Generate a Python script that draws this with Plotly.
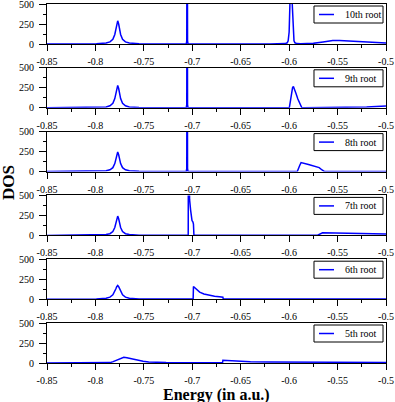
import plotly.graph_objects as go

# ---------------- data ----------------
ROOT_LABELS = ["10th root", "9th root", "8th root", "7th root", "6th root", "5th root"]

ENERGY_10 = [-0.85, -0.82, -0.799, -0.789, -0.785, -0.782, -0.780, -0.779, -0.778, -0.777,
             -0.776, -0.775, -0.774, -0.772, -0.769, -0.765, -0.755, -0.734,
             -0.7062, -0.7057, -0.7053, -0.7049, -0.7044, -0.62,
             -0.604, -0.602, -0.601, -0.600, -0.5992, -0.5985, -0.598, -0.5975, -0.5968,
             -0.596, -0.595, -0.594, -0.592, -0.588, -0.58, -0.575, -0.565, -0.555,
             -0.548, -0.535, -0.52, -0.5]
DOS_10 = [0, 1, 4, 12, 26, 58, 119, 177, 250, 290,
          250, 177, 119, 58, 26, 12, 4, 1,
          1, 40, 3000, 40, 1, 1,
          5, 15, 40, 150, 500, 1500, 2000, 1500, 500,
          150, 40, 15, 5, 2, 3, 8, 25, 44,
          45, 36, 24, 12]

ENERGY_9 = [-0.85, -0.82, -0.799, -0.789, -0.785, -0.782, -0.780, -0.779, -0.778, -0.777,
            -0.776, -0.775, -0.774, -0.772, -0.769, -0.765, -0.755, -0.734,
            -0.7062, -0.7057, -0.7053, -0.7049, -0.7044, -0.62,
            -0.6005, -0.5998, -0.5985, -0.5975, -0.5965, -0.5956, -0.5945, -0.593,
            -0.591, -0.5894, -0.588, -0.587, -0.585,
            -0.54, -0.53, -0.52, -0.51, -0.5]
DOS_9 = [0, 1, 4, 11, 25, 56, 115, 171, 241, 280,
         241, 171, 115, 56, 25, 11, 4, 1,
         1, 40, 3000, 40, 1, 1,
         1, 3, 100, 190, 250, 266, 235, 183,
         110, 58, 20, 3, 1,
         2, 5, 10, 17, 24]

ENERGY_8 = [-0.85, -0.82, -0.799, -0.789, -0.785, -0.782, -0.780, -0.779, -0.778, -0.777,
            -0.776, -0.775, -0.774, -0.772, -0.769, -0.765, -0.755, -0.734,
            -0.7062, -0.7057, -0.7053, -0.7049, -0.7044, -0.62,
            -0.5925, -0.5915, -0.589, -0.5877, -0.58, -0.574, -0.569, -0.566,
            -0.5637, -0.56, -0.5]
DOS_8 = [0, 1, 3, 10, 22, 49, 100, 149, 211, 245,
         211, 149, 100, 49, 22, 10, 3, 1,
         1, 40, 3000, 40, 1, 1,
         1, 5, 80, 112, 88, 70, 50, 20,
         2, 1, 1]

ENERGY_7 = [-0.85, -0.82, -0.799, -0.789, -0.785, -0.782, -0.780, -0.779, -0.778, -0.777,
            -0.776, -0.775, -0.774, -0.772, -0.769, -0.765, -0.755, -0.734,
            -0.72, -0.7045, -0.7042, -0.7039, -0.7034, -0.7028, -0.7017, -0.701,
            -0.7003, -0.6993, -0.6988, -0.6983, -0.695,
            -0.575, -0.5706, -0.5655, -0.56, -0.55, -0.54, -0.52, -0.5]
DOS_7 = [0, 1, 3, 10, 21, 48, 99, 147, 208, 241,
         208, 147, 99, 48, 21, 10, 3, 1,
         1, 1, 5, 2000, 700, 450, 312, 230,
         185, 166, 140, 1, 1,
         1, 2, 33, 32, 28, 24, 19, 16]

ENERGY_6 = [-0.85, -0.82, -0.799, -0.789, -0.785, -0.782, -0.780, -0.779, -0.778, -0.777,
            -0.776, -0.775, -0.774, -0.772, -0.769, -0.765, -0.755, -0.734,
            -0.71, -0.6991, -0.6988, -0.6976, -0.695, -0.6924, -0.688, -0.682,
            -0.677, -0.672, -0.6684, -0.668, -0.5]
DOS_6 = [0, 1, 4, 13, 26, 54, 96, 127, 157, 171,
         157, 127, 96, 54, 26, 13, 4, 1,
         1, 1, 158, 145, 112, 88, 66, 48,
         38, 30, 24, 1, 1]

ENERGY_5 = [-0.85, -0.80, -0.79, -0.785, -0.7817, -0.7775, -0.7735, -0.7707, -0.7675,
            -0.7611, -0.7555, -0.7508, -0.745, -0.737, -0.727, -0.71, -0.69, -0.6688,
            -0.6684, -0.665, -0.656, -0.64, -0.62, -0.595, -0.56, -0.53, -0.5]
DOS_5 = [0, 1, 2, 5, 17, 40, 60, 72, 66,
         46, 32, 21, 13, 8, 5, 3, 2, 2,
         33, 30, 22, 17, 14, 12, 9, 7, 6]

SERIES = [(ENERGY_10, DOS_10), (ENERGY_9, DOS_9), (ENERGY_8, DOS_8),
          (ENERGY_7, DOS_7), (ENERGY_6, DOS_6), (ENERGY_5, DOS_5)]

X_TICKS = [-0.85, -0.8, -0.75, -0.7, -0.65, -0.6, -0.55, -0.5]
X_TICK_LABELS = ["-0.85", "-0.8", "-0.75", "-0.7", "-0.65", "-0.6", "-0.55", "-0.5"]
Y_TICKS = [0, 250, 500]
Y_TICK_LABELS = ["0", "250", "500"]

# ---------------- figure ----------------
W, H = 395, 402
ML, MR, MT, MB = 47, 9, 4, 39
PH = H - MT - MB            # plot area height in px
PANEL_H = 40
STEP = 63.8
FONT = "Liberation Serif, Times New Roman, serif"
BLUE = "#0000ff"

fig = go.Figure()
layout = dict(
    width=W, height=H,
    margin=dict(l=ML, r=MR, t=MT, b=MB, pad=0, autoexpand=False),
    paper_bgcolor="white", plot_bgcolor="white",
    showlegend=False,
    font=dict(family=FONT, size=10, color="black"),
    shapes=[], annotations=[],
)

for i, ((e, d), label) in enumerate(zip(SERIES, ROOT_LABELS)):
    k = i + 1
    sfx = "" if k == 1 else str(k)
    fig.add_trace(go.Scatter(
        x=e, y=d, mode="lines", name=label,
        line=dict(color=BLUE, width=1.5),
        xaxis="x" + sfx, yaxis="y" + sfx, hoverinfo="skip",
    ))
    top = 1 - (STEP * i) / PH
    bot = 1 - (STEP * i + PANEL_H) / PH
    layout["xaxis" + sfx] = dict(
        domain=[0, 1], anchor="y" + sfx, range=[-0.85, -0.5], automargin=False,
        tickmode="array", tickvals=X_TICKS, ticktext=X_TICK_LABELS,
        ticks="outside", ticklen=6, tickwidth=1, tickcolor="black",
        minor=dict(dtick=0.025, tick0=-0.85, ticks="outside", ticklen=3,
                   tickwidth=1, tickcolor="black", showgrid=False),
        showline=True, linecolor="black", linewidth=1, mirror=True,
        showgrid=False, zeroline=False, ticklabelstandoff=2,
        ticklabeloverflow="allow",
        tickfont=dict(family=FONT, size=10, color="black"),
    )
    layout["yaxis" + sfx] = dict(
        domain=[bot, top], anchor="x" + sfx, range=[0, 500], automargin=False,
        tickmode="array", tickvals=Y_TICKS, ticktext=Y_TICK_LABELS,
        ticks="outside", ticklen=7, tickwidth=1, tickcolor="black",
        minor=dict(dtick=125, tick0=0, ticks="outside", ticklen=3,
                   tickwidth=1, tickcolor="black", showgrid=False),
        showline=True, linecolor="black", linewidth=1, mirror=True,
        showgrid=False, zeroline=False, ticklabelstandoff=3,
        ticklabeloverflow="allow",
        tickfont=dict(family=FONT, size=10, color="black"),
    )
    xr, yr = "x" + sfx + " domain", "y" + sfx + " domain"
    # legend box
    layout["shapes"].append(dict(type="rect", xref=xr, yref=yr,
                                 x0=0.7876, x1=0.9912, y0=0.525, y1=0.95,
                                 line=dict(color="black", width=1),
                                 fillcolor="white", layer="above"))
    layout["shapes"].append(dict(type="line", xref=xr, yref=yr,
                                 x0=0.8024, x1=0.8466, y0=0.7375, y1=0.7375,
                                 line=dict(color=BLUE, width=1.5), layer="above"))
    layout["annotations"].append(dict(text=label, xref=xr, yref=yr,
                                      x=0.8732, y=0.7375, xanchor="left", yanchor="middle",
                                      showarrow=False,
                                      font=dict(family=FONT, size=10, color="black")))

layout["annotations"].append(dict(
    text="DOS", xref="paper", yref="paper",
    x=(8 - ML) / (W - ML - MR), y=1 - (183 - MT) / PH,
    textangle=-90, showarrow=False, xanchor="center", yanchor="middle",
    font=dict(family=FONT, size=17, color="black", weight="bold")))
layout["annotations"].append(dict(
    text="Energy (in a.u.)", xref="paper", yref="paper",
    x=0.5, y=1 - (394.5 - MT) / PH,
    showarrow=False, xanchor="center", yanchor="middle",
    font=dict(family=FONT, size=16, color="black", weight="bold")))

fig.update_layout(**layout)
fig.write_html("out.html", config={"displayModeBar": False, "staticPlot": True})

# remove the browser's default page margin so the figure sits at the window origin
with open("out.html", "r", encoding="utf-8") as f:
    html = f.read()
html = html.replace("<head>", "<head><style>html,body{margin:0;padding:0;overflow:hidden;}</style>", 1)
with open("out.html", "w", encoding="utf-8") as f:
    f.write(html)
